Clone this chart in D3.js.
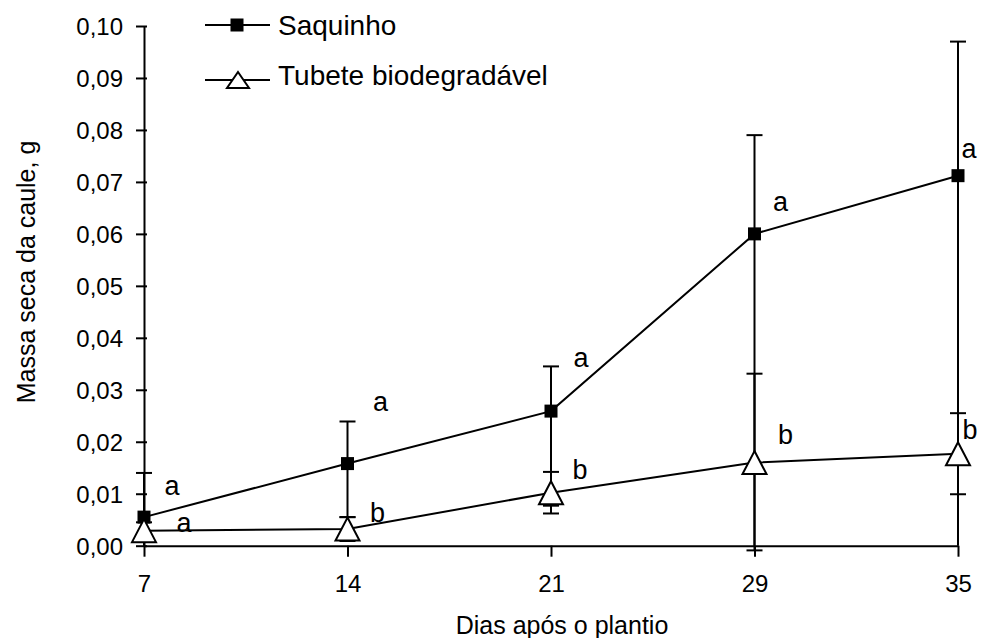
<!DOCTYPE html>
<html>
<head>
<meta charset="utf-8">
<script src="https://cdn.jsdelivr.net/npm/d3@7"></script>
<style>
  html, body { margin: 0; padding: 0; background: #fff; }
  svg { display: block; font-family: "Liberation Sans", Arial, sans-serif; }
</style>
</head>
<body>
<svg id="chart" width="981" height="638"></svg>
<script>
// ---- data ----
const days = ["7", "14", "21", "29", "35"];
const yTicks = [0, 0.01, 0.02, 0.03, 0.04, 0.05, 0.06, 0.07, 0.08, 0.09, 0.10];

const saquinho = [0.0055, 0.0158, 0.0259, 0.0600, 0.0712];
const saquinhoHigh = [0.0140, 0.0239, 0.0345, 0.0790, 0.0970];
const saquinhoLow = [0.0, 0.0055, 0.0077, 0.0, 0.0];
const saquinhoSig = ["a", "a", "a", "a", "a"];

const tubete = [0.0029, 0.0032, 0.0102, 0.0160, 0.0177];
const tubeteHigh = [0.0045, 0.0055, 0.0142, 0.0331, 0.0255];
const tubeteLow = [0.0013, 0.0009, 0.0062, -0.0009, 0.0099];
const tubeteSig = ["a", "b", "b", "b", "b"];

const seriesNames = ["Saquinho", "Tubete biodegradável"];
const xTitle = "Dias após o plantio";
const yTitle = "Massa seca da caule, g";

// ---- layout ----
const plotLeft = 144, plotRight = 958, plotTop = 26, plotBottom = 545.7;
const sigOffsetSaq = [[28, -32], [33, -62], [30, -54], [26, -32], [11, -27]];
const sigOffsetTub = [[40, -8], [30, -17], [29, -23], [31, -28], [12, -24]];

const svg = d3.select("#chart");
const x = d3.scalePoint().domain(days).range([plotLeft, plotRight]).padding(0);
const y = d3.scaleLinear().domain([0, 0.10]).range([plotBottom, plotTop]);

// axes
const fmt = d => d.toFixed(2).replace(".", ",");
const yAxis = svg.append("g").attr("transform", `translate(${plotLeft},0)`)
  .call(d3.axisLeft(y).tickValues(yTicks).tickFormat(fmt).tickSize(8).tickSizeOuter(0).tickPadding(13));
yAxis.selectAll(".tick line").attr("x1", 3).attr("x2", -8);

const xAxis = svg.append("g").attr("transform", `translate(0,${plotBottom})`)
  .call(d3.axisBottom(x).tickSize(11).tickSizeOuter(0).tickPadding(18));

[yAxis, xAxis].forEach(g => {
  g.attr("font-family", null).attr("font-size", null);
  g.selectAll(".domain, .tick line").attr("stroke", "#000").attr("stroke-width", 2);
  g.selectAll("text").style("font-size", "24px").attr("fill", "#000");
});
yAxis.selectAll("text").attr("dy", "0.35em");

// titles
svg.append("text").attr("x", 562).attr("y", 634).attr("text-anchor", "middle")
  .style("font-size", "25px").text(xTitle);
svg.append("text").attr("transform", "translate(35,272) rotate(-90)").attr("text-anchor", "middle")
  .style("font-size", "25px").text(yTitle);

// lines
const line = d3.line().x((d, i) => x(days[i])).y(d => y(d));
svg.append("path").datum(saquinho).attr("d", line).attr("fill", "none").attr("stroke", "#000").attr("stroke-width", 2);
svg.append("path").datum(tubete).attr("d", line).attr("fill", "none").attr("stroke", "#000").attr("stroke-width", 2);

// error bars
function errorBars(hi, lo) {
  const g = svg.append("g").attr("stroke", "#000").attr("stroke-width", 2);
  days.forEach((d, i) => {
    const cx = x(d);
    g.append("line").attr("x1", cx).attr("x2", cx).attr("y1", y(hi[i])).attr("y2", y(lo[i]));
    g.append("line").attr("x1", cx - 8).attr("x2", cx + 8).attr("y1", y(hi[i])).attr("y2", y(hi[i]));
    if (lo[i] !== 0) {
      g.append("line").attr("x1", cx - 8).attr("x2", cx + 8).attr("y1", y(lo[i])).attr("y2", y(lo[i]));
    }
  });
}
errorBars(saquinhoHigh, saquinhoLow);
errorBars(tubeteHigh, tubeteLow);

// markers
const sq = 13;
const triPath = "M0,-11.5L12,11.5L-12,11.5Z";
svg.append("g").selectAll("rect").data(saquinho).join("rect")
  .attr("x", (d, i) => x(days[i]) - sq / 2).attr("y", d => y(d) - sq / 2)
  .attr("width", sq).attr("height", sq).attr("fill", "#000");
svg.append("g").selectAll("path").data(tubete).join("path")
  .attr("d", triPath)
  .attr("transform", (d, i) => `translate(${x(days[i])},${y(d)})`)
  .attr("fill", "#fff").attr("stroke", "#000").attr("stroke-width", 2);

// significance letters
svg.append("g").selectAll("text").data(saquinhoSig).join("text")
  .attr("x", (d, i) => x(days[i]) + sigOffsetSaq[i][0])
  .attr("y", (d, i) => y(saquinho[i]) + sigOffsetSaq[i][1])
  .attr("text-anchor", "middle").attr("dy", "0.35em").style("font-size", "27px").text(d => d);
svg.append("g").selectAll("text").data(tubeteSig).join("text")
  .attr("x", (d, i) => x(days[i]) + sigOffsetTub[i][0])
  .attr("y", (d, i) => y(tubete[i]) + sigOffsetTub[i][1])
  .attr("text-anchor", "middle").attr("dy", "0.35em").style("font-size", "27px").text(d => d);

// legend
const lg = svg.append("g");
const legY = [25, 80];
lg.append("line").attr("x1", 205).attr("x2", 270).attr("y1", legY[0]).attr("y2", legY[0]).attr("stroke", "#000").attr("stroke-width", 2);
lg.append("rect").attr("x", 237 - sq / 2).attr("y", legY[0] - sq / 2).attr("width", sq).attr("height", sq).attr("fill", "#000");
lg.append("text").attr("x", 278).attr("y", legY[0] + 10).style("font-size", "28px").text(seriesNames[0]);
lg.append("line").attr("x1", 205).attr("x2", 270).attr("y1", legY[1]).attr("y2", legY[1]).attr("stroke", "#000").attr("stroke-width", 2);
lg.append("path").attr("d", "M0,-8L11,8L-11,8Z").attr("transform", `translate(238,${legY[1]})`)
  .attr("fill", "#fff").attr("stroke", "#000").attr("stroke-width", 2);
lg.append("text").attr("x", 278).attr("y", legY[1] + 5).style("font-size", "28px").text(seriesNames[1]);
</script>
</body>
</html>
